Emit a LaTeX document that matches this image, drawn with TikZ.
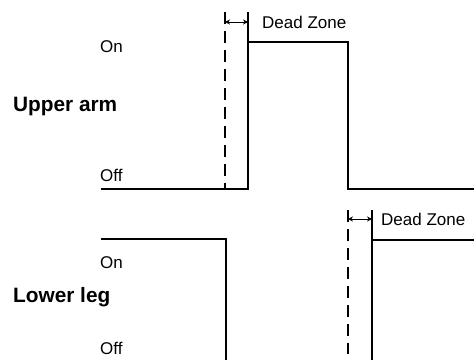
\documentclass[tikz,border=0pt]{standalone}
\usepackage{fontspec}
\setmainfont{Liberation Sans}
\usetikzlibrary{arrows.meta}
\begin{document}
\begin{tikzpicture}[x=1pt,y=1pt,
  wave/.style={line width=1.8pt},
  dashline/.style={line width=1.6pt, dash pattern=on 12pt off 7pt},
  dz/.style={line width=1pt, {Stealth[length=5pt,width=5pt]}-{Stealth[length=5pt,width=5pt]}},
  lab/.style={font=\fontsize{17}{20}\selectfont, anchor=west, inner sep=0pt},
  title/.style={font=\fontsize{20.8}{24}\selectfont\bfseries, anchor=west, inner sep=0pt}]
\useasboundingbox (0,0) rectangle (474,360);
% upper arm waveform
\coordinate (u0) at (101,171);
\coordinate (u1) at (248,171);
\coordinate (u2) at (248,318);
\coordinate (u3) at (348,318);
\coordinate (u4) at (348,171);
\coordinate (u5) at (474,171);
\coordinate (ut) at (248,348);
\coordinate (ud0) at (225,348);
\coordinate (ud1) at (225,171);
\coordinate (ua0) at (225,338);
\coordinate (ua1) at (248,338);
\draw[wave] (u0) -- (u1) -- (u2) -- (u3) -- (u4) -- (u5);
\draw[wave] (u2) -- (ut);
\draw[dashline] (ud0) -- (ud1);
\draw[dz] (ua0) -- (ua1);
\node[lab] (dz1) at (262,338) {Dead Zone};
% lower leg waveform
\coordinate (l0) at (101,121);
\coordinate (l1) at (226,121);
\coordinate (l2) at (226,0);
\coordinate (l3) at (372,0);
\coordinate (l4) at (372,120);
\coordinate (l5) at (474,120);
\coordinate (lt) at (372,150);
\coordinate (ld0) at (348,150);
\coordinate (ld1) at (348,6);
\coordinate (la0) at (348,141);
\coordinate (la1) at (372,141);
\draw[wave] (l0) -- (l1) -- (l2);
\draw[wave] (l3) -- (l4) -- (l5);
\draw[wave] (l4) -- (lt);
\draw[dashline] (ld0) -- (ld1);
\draw[dz] (la0) -- (la1);
\node[lab] (dz2) at (381,141) {Dead Zone};
% labels
\node[lab] (on1) at (100,313) {On};
\node[title] (ua) at (13,253) {Upper arm};
\node[lab] (off1) at (100,185) {Off};
\node[lab] (on2) at (100,97) {On};
\node[title] (ll) at (13,63) {Lower leg};
\node[lab] (off2) at (100,12) {Off};
\end{tikzpicture}
\end{document}
